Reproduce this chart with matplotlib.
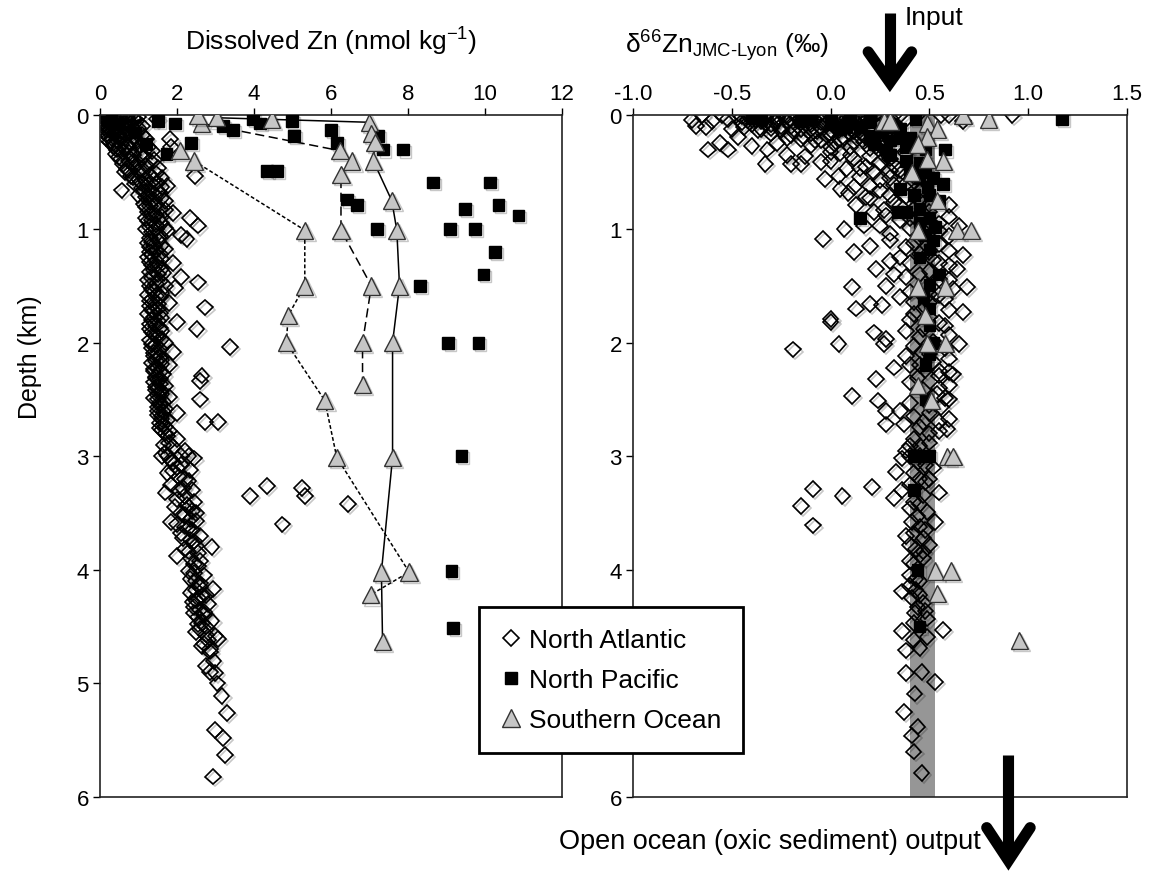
import matplotlib.pyplot as plt
import matplotlib.patheffects as pe
from matplotlib.lines import Line2D

plt.rcParams['font.family'] = ['Liberation Sans', 'DejaVu Sans']
plt.rcParams['mathtext.fontset'] = 'custom'
plt.rcParams['mathtext.rm'] = 'Liberation Sans'
plt.rcParams['mathtext.it'] = 'Liberation Sans:italic'
plt.rcParams['axes.unicode_minus'] = False

# ---------------- data: (depth km, dissolved Zn nmol/kg) ----------------
na_zn = [
    (0.00, 0.05), (0.00, 0.15), (0.00, 0.3), (0.00, 0.45), (0.00, 0.6), (0.00, 0.8), (0.01, 1.0),
    (0.02, 0.1), (0.02, 0.25), (0.03, 0.4), (0.03, 0.55), (0.04, 0.7), (0.03, 0.9), (0.03, 1.47),
    (0.05, 0.05), (0.05, 0.2), (0.06, 0.35), (0.06, 0.5), (0.07, 0.65), (0.08, 0.1), (0.08, 0.3),
    (0.09, 0.45), (0.1, 0.2), (0.1, 0.6), (0.1, 0.8), (0.11, 1.0), (0.12, 0.15), (0.12, 0.4),
    (0.13, 0.25), (0.14, 0.55), (0.15, 0.1), (0.15, 0.75), (0.16, 0.35), (0.17, 0.5), (0.18, 0.2),
    (0.19, 0.9), (0.2, 0.3), (0.2, 0.65), (0.21, 1.2), (0.21, 1.82), (0.22, 0.45), (0.23, 0.25),
    (0.24, 0.8), (0.25, 0.55), (0.26, 1.05), (0.27, 0.35), (0.28, 0.7), (0.28, 1.84), (0.3, 0.45),
    (0.3, 0.95), (0.31, 1.35), (0.32, 0.6), (0.34, 0.4), (0.35, 0.85), (0.36, 1.15), (0.38, 0.55),
    (0.4, 0.75), (0.4, 1.3), (0.42, 1.0), (0.43, 0.6), (0.45, 0.9), (0.46, 1.5), (0.48, 0.75),
    (0.5, 1.1), (0.5, 0.65), (0.52, 1.3), (0.53, 2.47), (0.54, 0.85), (0.55, 1.6), (0.56, 1.0),
    (0.58, 1.2), (0.6, 0.9), (0.6, 1.45), (0.62, 1.75), (0.64, 1.1), (0.66, 0.56), (0.66, 1.3),
    (0.68, 1.55), (0.7, 1.0), (0.72, 1.2), (0.74, 1.4), (0.75, 1.7), (0.78, 1.15), (0.8, 1.3),
    (0.82, 1.55), (0.85, 1.25), (0.86, 1.9), (0.88, 1.45), (0.9, 1.2), (0.9, 2.34), (0.92, 1.35),
    (0.95, 1.6), (0.97, 2.55), (0.98, 1.3), (1.0, 1.2), (1.0, 1.45), (1.02, 1.75), (1.05, 2.1),
    (1.08, 1.3), (1.09, 2.25), (1.1, 1.5), (1.12, 1.25), (1.15, 1.4), (1.18, 1.7), (1.2, 1.3),
    (1.22, 1.55), (1.25, 1.25), (1.28, 1.45), (1.3, 1.9), (1.32, 1.35), (1.35, 1.6), (1.38, 1.3),
    (1.4, 1.5), (1.42, 2.1), (1.45, 1.25), (1.47, 2.55), (1.48, 1.45), (1.5, 1.3), (1.5, 1.7),
    (1.52, 1.95), (1.55, 1.4), (1.58, 1.25), (1.6, 1.55), (1.62, 1.35), (1.65, 1.8), (1.68, 1.3),
    (1.69, 2.73), (1.7, 1.5), (1.72, 1.4), (1.75, 1.25), (1.78, 1.6), (1.8, 1.35), (1.82, 2.0),
    (1.85, 1.45), (1.88, 2.51), (1.88, 1.3), (1.9, 1.6), (1.92, 1.4), (1.95, 1.5), (1.98, 1.3),
    (2.0, 1.7), (2.02, 1.45), (2.04, 3.38), (2.05, 1.35), (2.08, 1.9), (2.1, 1.5), (2.12, 1.4),
    (2.15, 1.6), (2.18, 1.35), (2.2, 1.8), (2.22, 1.5), (2.25, 1.4), (2.28, 1.65), (2.29, 2.64),
    (2.3, 1.45), (2.32, 1.55), (2.34, 2.6), (2.35, 1.4), (2.38, 1.7), (2.4, 1.5), (2.42, 1.45),
    (2.45, 1.6), (2.48, 1.8), (2.5, 1.5), (2.5, 2.6), (2.52, 1.65), (2.55, 1.55), (2.58, 1.7),
    (2.6, 1.5), (2.62, 2.0), (2.65, 1.6), (2.68, 1.75), (2.7, 2.73), (2.7, 3.07), (2.72, 1.65),
    (2.75, 1.55), (2.78, 1.8), (2.8, 1.7), (2.85, 2.0), (2.9, 1.65), (2.95, 2.2), (3.0, 1.6),
    (3.0, 1.75), (3.0, 2.1), (3.0, 2.3), (3.02, 2.45), (3.05, 1.9), (3.1, 2.0), (3.12, 2.35),
    (3.15, 1.75), (3.2, 2.2), (3.25, 1.85), (3.26, 4.33), (3.28, 5.24), (3.3, 2.05), (3.3, 2.4),
    (3.32, 1.7), (3.35, 3.9), (3.35, 5.32), (3.35, 2.2), (3.4, 2.45), (3.42, 6.45), (3.45, 1.95),
    (3.45, 2.3), (3.5, 2.1), (3.5, 2.5), (3.55, 2.35), (3.58, 1.85), (3.6, 2.0), (3.6, 4.74),
    (3.62, 2.2), (3.65, 2.4), (3.7, 2.6), (3.72, 2.15), (3.75, 2.45), (3.8, 2.9), (3.82, 2.2),
    (3.85, 2.55), (3.88, 2.0), (3.9, 2.35), (3.92, 2.6), (3.95, 2.45), (4.01, 2.3), (4.05, 2.7),
    (4.1, 2.5), (4.15, 2.6), (4.17, 2.94), (4.2, 2.35), (4.22, 2.75), (4.25, 2.55), (4.28, 2.4),
    (4.3, 2.8), (4.35, 2.6), (4.38, 2.45), (4.4, 2.7), (4.45, 2.9), (4.48, 2.55), (4.5, 2.75),
    (4.55, 2.5), (4.58, 3.0), (4.61, 3.07), (4.65, 2.7), (4.7, 2.85), (4.72, 2.86), (4.8, 2.95),
    (4.85, 2.75), (4.9, 2.86), (4.91, 3.0), (5.0, 3.05), (5.11, 3.16), (5.26, 3.29), (5.41, 2.99),
    (5.48, 3.2), (5.63, 3.25), (5.82, 2.94),
    (0.01, 0.2), (0.01, 0.5), (0.01, 0.7), (0.02, 0.85), (0.04, 0.15), (0.04, 0.45), (0.05, 0.95),
    (0.06, 0.25), (0.07, 0.05), (0.07, 0.8), (0.08, 0.55), (0.09, 1.1), (0.1, 0.4), (0.11, 0.7),
    (0.12, 0.05), (0.13, 0.9), (0.14, 0.3), (0.16, 0.65), (0.17, 1.1), (0.18, 0.45), (0.2, 0.15),
    (0.21, 0.55), (0.22, 0.95), (0.24, 0.35), (0.26, 0.7), (0.28, 1.25), (0.29, 0.5), (0.33, 0.75),
    (0.35, 1.05), (0.37, 0.5), (0.39, 1.4), (0.41, 0.85), (0.44, 1.2), (0.47, 0.7), (0.49, 1.0),
    (0.51, 1.45), (0.53, 0.8), (0.57, 1.4), (0.59, 1.05), (0.61, 1.25), (0.63, 1.6), (0.67, 1.15),
    (0.69, 1.4), (0.71, 1.25), (0.73, 1.6), (0.76, 1.3), (0.79, 1.45), (0.81, 1.2), (0.83, 1.7),
    (0.87, 1.35), (0.89, 1.6), (0.93, 1.25), (0.96, 1.45), (0.99, 1.7), (1.03, 1.35), (1.06, 1.55),
    (1.11, 1.35), (1.14, 1.6), (1.16, 1.3), (1.19, 1.45), (1.23, 1.35), (1.26, 1.6), (1.29, 1.3),
    (1.33, 1.5), (1.36, 1.4), (1.39, 1.65), (1.43, 1.35), (1.46, 1.55), (1.53, 1.35), (1.56, 1.6),
    (1.59, 1.45), (1.63, 1.3), (1.66, 1.5), (1.71, 1.35), (1.74, 1.55), (1.77, 1.4), (1.81, 1.5),
    (1.84, 1.3), (1.87, 1.55), (1.91, 1.35), (1.94, 1.45), (1.97, 1.6), (2.01, 1.35), (2.06, 1.55),
    (2.09, 1.4), (2.13, 1.55), (2.16, 1.45), (2.19, 1.6), (2.23, 1.4), (2.26, 1.55), (2.31, 1.45),
    (2.36, 1.55), (2.39, 1.45), (2.43, 1.6), (2.46, 1.5), (2.49, 1.4), (2.53, 1.55), (2.57, 1.5),
    (2.61, 1.65), (2.64, 1.5), (2.67, 1.6), (2.71, 1.55), (2.74, 1.7), (2.77, 1.6), (2.82, 1.75),
    (2.88, 1.8), (2.92, 1.9), (2.97, 1.7), (3.03, 1.85), (3.08, 2.1), (3.13, 1.9), (3.18, 2.05),
    (3.22, 2.3), (3.28, 2.15), (3.38, 2.0), (3.43, 2.25), (3.48, 2.4), (3.52, 2.2), (3.57, 2.5),
    (3.63, 2.3), (3.68, 2.1), (3.74, 2.35), (3.79, 2.5), (3.84, 2.3), (3.97, 2.55), (4.03, 2.45),
    (4.08, 2.35), (4.12, 2.6), (4.18, 2.5), (4.23, 2.65), (4.27, 2.5), (4.33, 2.45), (4.37, 2.7),
    (4.42, 2.55), (4.47, 2.65), (4.52, 2.6), (4.57, 2.75), (4.62, 2.8), (4.67, 2.65),
]

np_zn = [
    (0.02, 0.3), (0.05, 1.5), (0.15, 0.9), (0.25, 1.2), (0.07, 1.95), (0.24, 2.37), (0.34, 1.73),
    (0.09, 3.2), (0.13, 3.46), (0.03, 3.98), (0.07, 4.16), (0.05, 4.98), (0.18, 5.04), (0.13, 6.0),
    (0.24, 6.15), (0.18, 7.23), (0.3, 7.36), (0.3, 7.88), (0.49, 4.33), (0.49, 4.59), (0.59, 8.66),
    (0.59, 10.13), (0.74, 6.41), (0.79, 6.67), (0.82, 9.48), (0.79, 10.35), (0.88, 10.87),
    (1.0, 7.19), (1.0, 9.09), (1.0, 9.74), (1.2, 10.26), (1.4, 9.96), (1.5, 8.31), (2.0, 9.05),
    (2.0, 9.83), (3.0, 9.39), (4.01, 9.13), (4.51, 9.18),
]

# Southern Ocean profiles (triangles joined by lines)
so_solid = [(0.02, 3.03), (0.06, 7.0), (0.16, 7.05), (0.24, 7.14), (0.4, 7.1), (0.75, 7.58),
            (1.01, 7.71), (1.5, 7.78), (2.0, 7.6), (3.01, 7.6), (4.02, 7.31), (4.63, 7.34)]
so_dashed = [(0.07, 2.63), (0.31, 6.23), (0.4, 6.54), (0.52, 6.26), (1.01, 6.26), (1.5, 7.05),
             (2.0, 6.82), (2.37, 6.82)]
so_dotted = [(0.4, 2.44), (1.01, 5.32), (1.5, 5.32), (1.76, 4.89), (2.0, 4.84), (2.51, 5.84),
             (3.01, 6.15), (4.02, 8.03), (4.22, 7.03)]
so_zn_extra = [(0.0, 2.55), (0.03, 4.46), (0.31, 2.08)]

# ---------------- data: (depth km, d66Zn permil) ----------------
na_d66 = [
    (0.0, -0.65), (0.0, -0.55), (0.0, -0.48), (0.0, -0.42), (0.0, -0.36), (0.0, -0.3), (0.0, -0.24),
    (0.0, -0.18), (0.0, -0.12), (0.0, -0.06), (0.0, 0.0), (0.0, 0.05), (0.0, 0.1), (0.0, 0.15),
    (0.0, 0.2), (0.0, 0.26), (0.0, 0.35), (0.0, 0.44), (0.0, 0.56), (0.0, 0.6), (0.0, 0.92),
    (0.04, -0.7), (0.05, -0.6), (0.03, -0.52), (0.06, -0.45), (0.04, -0.38), (0.07, -0.33),
    (0.05, -0.27), (0.03, -0.2), (0.06, -0.15), (0.04, -0.08), (0.07, -0.02), (0.05, 0.04),
    (0.03, 0.08), (0.06, 0.13), (0.05, 0.67), (0.09, -0.68), (0.1, -0.63), (0.12, -0.5),
    (0.1, -0.44), (0.13, -0.37), (0.11, -0.3), (0.09, -0.25), (0.14, -0.19), (0.12, -0.1),
    (0.1, -0.05), (0.13, 0.0), (0.11, 0.06), (0.12, 0.11), (0.15, 0.16), (0.1, 0.2),
    (0.19, -0.47), (0.24, -0.56), (0.3, -0.62), (0.3, -0.52), (0.27, -0.4), (0.3, -0.32),
    (0.24, -0.27), (0.2, -0.22), (0.18, -0.14), (0.22, -0.08), (0.17, -0.02), (0.25, 0.02),
    (0.2, 0.07), (0.23, 0.12), (0.19, 0.18), (0.27, 0.23), (0.22, 0.3), (0.43, -0.33),
    (0.43, -0.2), (0.43, -0.15), (0.36, -0.13), (0.41, -0.05), (0.56, -0.03), (0.53, 0.04),
    (0.47, 0.08), (0.38, 0.12), (0.45, 0.18), (0.5, 0.22), (0.37, 0.28), (0.55, 0.3), (0.48, 0.35),
    (0.33, 0.05), (0.35, -0.22), (0.32, 0.0), (0.65, 0.05), (0.68, 0.09), (0.79, 0.13),
    (0.97, 0.17), (1.0, 0.07), (0.85, 0.22), (0.97, 0.25), (0.7, 0.3), (0.8, 0.35), (0.9, 0.4),
    (0.75, 0.45), (0.85, 0.5), (0.95, 0.55), (0.79, 0.6), (0.97, 0.65), (0.62, 0.2), (0.72, 0.18),
    (0.88, 0.28), (0.6, 0.38), (1.09, -0.04), (1.2, 0.12), (1.15, 0.2), (1.35, 0.23), (1.51, 0.11),
    (1.66, 0.2), (1.7, 0.13), (1.79, 0.0), (1.67, 0.26), (1.1, 0.3), (1.25, 0.35), (1.3, 0.4),
    (1.4, 0.45), (1.2, 0.5), (1.3, 0.55), (1.45, 0.6), (1.23, 0.67), (1.35, 0.64), (1.51, 0.69),
    (1.73, 0.67), (1.6, 0.35), (1.75, 0.42), (1.65, 0.5), (1.85, 0.58), (1.9, 0.38), (1.95, 0.45),
    (1.91, 0.22), (2.01, 0.27), (1.97, 0.28), (2.01, 0.04), (2.06, -0.19), (1.82, 0.0),
    (1.5, 0.28), (1.4, 0.32), (1.12, 0.42), (1.58, 0.55), (2.01, 0.65), (2.26, 0.6), (2.22, 0.32),
    (2.32, 0.23), (2.47, 0.11), (2.51, 0.24), (2.6, 0.28), (2.72, 0.28), (2.6, 0.35), (2.72, 0.37),
    (2.76, 0.59), (2.91, 0.4), (2.91, 0.45), (2.1, 0.5), (2.25, 0.55), (2.2, 0.45), (2.35, 0.4),
    (2.4, 0.55), (2.5, 0.6), (2.55, 0.5), (2.65, 0.42), (2.7, 0.55), (2.28, 0.62), (2.49, 0.58),
    (2.8, 0.5), (2.12, 0.38), (2.7, 0.47), (3.14, 0.33), (3.29, -0.09), (3.44, -0.15),
    (3.61, -0.09), (3.35, 0.06), (3.27, 0.21), (3.37, 0.32), (3.3, 0.36), (3.32, 0.55), (3.2, 0.45),
    (3.2, 0.5), (3.58, 0.41), (3.58, 0.53), (3.49, 0.49), (3.78, 0.4), (3.78, 0.5), (3.87, 0.45),
    (3.0, 0.4), (3.0, 0.45), (3.1, 0.52), (3.4, 0.42), (3.7, 0.38), (3.9, 0.47), (3.65, 0.48),
    (3.02, 0.36), (3.25, 0.4), (4.19, 0.36), (4.18, 0.43), (4.29, 0.47), (4.38, 0.425),
    (4.43, 0.49), (4.54, 0.36), (4.53, 0.57), (4.59, 0.49), (4.71, 0.38), (4.69, 0.45),
    (4.91, 0.38), (4.9, 0.46), (4.99, 0.53), (5.09, 0.425), (5.25, 0.37), (5.38, 0.44),
    (5.46, 0.41), (5.6, 0.42), (5.79, 0.46), (3.95, 0.42), (4.05, 0.4), (4.1, 0.45),
    (0.01, -0.45), (0.01, -0.4), (0.02, -0.33), (0.02, -0.27), (0.01, -0.22), (0.02, -0.15),
    (0.01, -0.1), (0.02, -0.03), (0.01, 0.03), (0.02, 0.08), (0.01, 0.12), (0.02, 0.18),
    (0.01, 0.22), (0.02, 0.3), (0.03, 0.38), (0.04, -0.42), (0.05, -0.35), (0.06, -0.28),
    (0.05, -0.22), (0.04, -0.12), (0.06, -0.05), (0.04, 0.0), (0.06, 0.1), (0.05, 0.18),
    (0.04, 0.24), (0.06, 0.3), (0.08, -0.4), (0.08, -0.3), (0.09, -0.2), (0.08, -0.1),
    (0.09, 0.02), (0.08, 0.08), (0.09, 0.15), (0.08, 0.25), (0.1, 0.33), (0.12, -0.35),
    (0.13, -0.25), (0.12, -0.15), (0.14, -0.07), (0.13, 0.04), (0.14, 0.12), (0.13, 0.2),
    (0.15, 0.28), (0.16, -0.3), (0.17, -0.2), (0.16, -0.1), (0.18, 0.0), (0.16, 0.1), (0.18, 0.15),
    (0.17, 0.25), (0.2, 0.3), (0.21, -0.15), (0.22, -0.05), (0.21, 0.05), (0.23, 0.17),
    (0.24, 0.26), (0.26, 0.33), (0.26, -0.1), (0.28, 0.0), (0.28, 0.1), (0.29, 0.2), (0.31, 0.28),
    (0.33, 0.38), (0.35, 0.1), (0.36, 0.2), (0.38, 0.3), (0.4, 0.0), (0.42, 0.25), (0.44, 0.32),
    (0.46, 0.15), (0.49, 0.3), (0.52, 0.38), (0.54, 0.15), (0.57, 0.25), (0.58, 0.42),
    (0.61, 0.32), (0.63, 0.12), (0.66, 0.25), (0.67, 0.45), (0.71, 0.38), (0.73, 0.2),
    (0.76, 0.32), (0.78, 0.5), (0.82, 0.42), (0.83, 0.27), (0.87, 0.45), (0.89, 0.6), (0.92, 0.35),
    (0.93, 0.5), (0.99, 0.4), (1.02, 0.55), (1.04, 0.3), (1.06, 0.6), (1.08, 0.45), (1.13, 0.55),
    (1.16, 0.38), (1.19, 0.6), (1.22, 0.45), (1.27, 0.52), (1.28, 0.3), (1.32, 0.6), (1.37, 0.5),
    (1.42, 0.38), (1.44, 0.55), (1.48, 0.48), (1.53, 0.62), (1.55, 0.4), (1.57, 0.5), (1.62, 0.58),
    (1.64, 0.42), (1.69, 0.48), (1.71, 0.6), (1.77, 0.5), (1.8, 0.4), (1.83, 0.55), (1.88, 0.47),
    (1.93, 0.6), (1.99, 0.52), (2.03, 0.42), (2.05, 0.58), (2.08, 0.46), (2.14, 0.6), (2.17, 0.52),
    (2.2, 0.4), (2.24, 0.48), (2.29, 0.55), (2.31, 0.44), (2.37, 0.6), (2.42, 0.47), (2.45, 0.54),
    (2.53, 0.4), (2.57, 0.56), (2.62, 0.5), (2.67, 0.6), (2.74, 0.45), (2.78, 0.55), (2.85, 0.42),
    (2.88, 0.5), (2.95, 0.38), (3.05, 0.44), (3.08, 0.48), (3.15, 0.42), (3.23, 0.48),
    (3.34, 0.47), (3.42, 0.45), (3.46, 0.4), (3.53, 0.44), (3.62, 0.45), (3.68, 0.42),
    (3.72, 0.47), (3.82, 0.43), (3.84, 0.47), (3.92, 0.4), (4.08, 0.43), (4.14, 0.4), (4.22, 0.45),
    (4.25, 0.41), (4.33, 0.44), (4.36, 0.48), (4.47, 0.42), (4.62, 0.42),
]

np_d66 = [
    (0.03, 1.17), (0.03, 0.43), (0.3, 0.58), (0.6, 0.57), (0.75, 0.55), (0.9, 0.15), (0.85, 0.34),
    (0.63, 0.49), (0.98, 0.53), (1.18, 0.5), (1.4, 0.55), (1.49, 0.5), (0.05, 0.1), (0.1, 0.15),
    (0.03, 0.2), (0.15, 0.25), (0.1, 0.3), (0.2, 0.35), (0.3, 0.28), (0.4, 0.38), (0.5, 0.4),
    (0.55, 0.45), (0.65, 0.35), (0.7, 0.42), (0.85, 0.38), (0.95, 0.45), (1.05, 0.48), (2.0, 0.52),
    (2.1, 0.5), (3.0, 0.45), (3.0, 0.5), (4.0, 0.44), (4.5, 0.45), (0.05, 0.0), (0.03, -0.1),
    (0.12, 0.05), (0.2, 0.2), (0.3, 0.48), (0.45, 0.45), (0.55, 0.52), (0.02, -0.4),
    (0.03, -0.35), (0.05, -0.15), (0.08, 0.0), (0.1, 0.08), (0.18, 0.2), (0.25, 0.22),
    (0.35, 0.3), (1.6, 0.47), (1.85, 0.5), (2.5, 0.48), (3.3, 0.42),
    (0.06, 0.2), (0.08, 0.28), (0.12, 0.35), (0.2, 0.4), (0.22, 0.3), (0.28, 0.38), (0.42, 0.45),
    (0.5, 0.48), (0.7, 0.5), (0.82, 0.45), (0.9, 0.5), (1.1, 0.52), (1.25, 0.45), (1.7, 0.5),
    (2.2, 0.48), (3.0, 0.42),
]

so_d66 = [
    (0.05, 0.27), (0.05, 0.3), (0.07, 0.49), (0.12, 0.54), (0.0, 0.67), (0.03, 0.8), (0.19, 0.49),
    (0.25, 0.44), (0.39, 0.49), (0.4, 0.57), (0.5, 0.41), (0.75, 0.54), (1.01, 0.44), (1.01, 0.64),
    (1.01, 0.71), (1.51, 0.44), (1.51, 0.58), (1.76, 0.48), (2.01, 0.49), (2.01, 0.58),
    (2.38, 0.44), (2.51, 0.51), (3.0, 0.59), (3.0, 0.62), (4.01, 0.53), (4.01, 0.61),
    (4.21, 0.54), (4.62, 0.955),
]

oxic_band = (0.40, 0.53)   # d66Zn range of oxic sediment output
input_d66 = 0.30
output_d66 = 0.90

# ---------------- styles ----------------
shadow = [pe.SimpleLineShadow(offset=(1.5, -1.5), shadow_color='black', alpha=0.22), pe.Normal()]
na_style = dict(marker='D', ms=8, mfc='none', mec='black', mew=1.2, linestyle='none')
np_style = dict(marker='s', ms=8.5, mfc='black', mec='black', mew=1, linestyle='none')
so_style = dict(marker='^', ms=12.5, mfc='#c6c6c6', mec='#333333', mew=1, linestyle='none')


def scatter(ax, pts, style, z):
    depth, val = zip(*pts)
    ax.plot(val, depth, zorder=z, path_effects=shadow, **style)


def profile(ax, pts, dashes):
    depth, val = zip(*pts)
    line, = ax.plot(val, depth, color='black', lw=1.1, zorder=3)
    if dashes:
        line.set_dashes(dashes)
    ax.plot(val, depth, zorder=4, path_effects=shadow, **so_style)


def style_axis(ax):
    ax.xaxis.tick_top()
    ax.tick_params(direction='out', length=5, width=1, labelsize=16, pad=3)
    for s in ax.spines.values():
        s.set_linewidth(1.2)
        s.set_color('#222222')
    ax.set_ylim(6, 0)
    ax.set_yticks(range(7))


fig = plt.figure(figsize=(11.52, 8.79), dpi=100)
ax1 = fig.add_axes([0.0868, 0.0922, 0.4010, 0.7753])
ax2 = fig.add_axes([0.5495, 0.0922, 0.4288, 0.7753])

# left panel: dissolved Zn
scatter(ax1, na_zn, na_style, 2)
scatter(ax1, np_zn, np_style, 3)
profile(ax1, so_solid, None)
profile(ax1, so_dashed, (6, 3))
profile(ax1, so_dotted, (2.5, 1.5))
scatter(ax1, so_zn_extra, so_style, 4)
style_axis(ax1)
ax1.set_xlim(0, 12)
ax1.set_xticks(range(0, 13, 2))
ax1.text(6, -0.66, 'Dissolved Zn (nmol kg$^{-1}$)', fontsize=19, ha='center', va='center')

# right panel: d66Zn
ax2.axvspan(*oxic_band, color='#969696', lw=0, zorder=1)
scatter(ax2, na_d66, na_style, 2)
scatter(ax2, np_d66, np_style, 3)
scatter(ax2, so_d66, so_style, 4)
style_axis(ax2)
ax2.set_xlim(-1.0, 1.5)
ax2.set_xticks([-1.0, -0.5, 0.0, 0.5, 1.0, 1.5])
ax2.set_xticklabels(['%.1f' % v for v in ax2.get_xticks()])
ax2.set_yticklabels(['0', '1', '2', '3', '4', '', '6'])   # 5 sits under the legend
ax2.text(-1.04, -0.62, 'δ$^{66}$Zn$_{\\mathrm{JMC‐Lyon}}$ (‰)', fontsize=19,
         ha='left', va='center')


def arrow(ax, x, y_top, y_tip, y_arm, half):
    ax.plot([x, x], [y_top, y_tip - 0.08], color='black', lw=8,
            solid_capstyle='butt', clip_on=False, zorder=6)
    ax.plot([x - half, x, x + half], [y_arm, y_tip, y_arm], color='black', lw=8,
            solid_joinstyle='miter', solid_capstyle='round', clip_on=False, zorder=6)


arrow(ax2, input_d66, -0.90, -0.29, -0.56, 0.11)
arrow(ax2, output_d66, 5.63, 6.56, 6.27, 0.11)
ax2.text(0.375, -0.87, 'Input', fontsize=19, ha='left', va='center')
ax2.text(0.76, 6.39, 'Open ocean (oxic sediment) output', fontsize=19.5, ha='right', va='center')

fig.text(0.026, 1 - 357 / 879, 'Depth (km)', rotation=90, fontsize=18, ha='center', va='center')

handles = [Line2D([], [], **na_style), Line2D([], [], **np_style), Line2D([], [], **so_style)]
leg = fig.legend(handles, ['North Atlantic', 'North Pacific', 'Southern Ocean'],
                 loc='upper left', bbox_to_anchor=(479 / 1152, 1 - 608 / 879),
                 fontsize=19, frameon=True, fancybox=False, borderpad=0.8,
                 labelspacing=0.6, handlelength=0.8, handletextpad=0.3, borderaxespad=0)
leg.get_frame().set_edgecolor('black')
leg.get_frame().set_linewidth(2)
leg.get_frame().set_alpha(1)

fig.savefig('out.png', dpi=100)
